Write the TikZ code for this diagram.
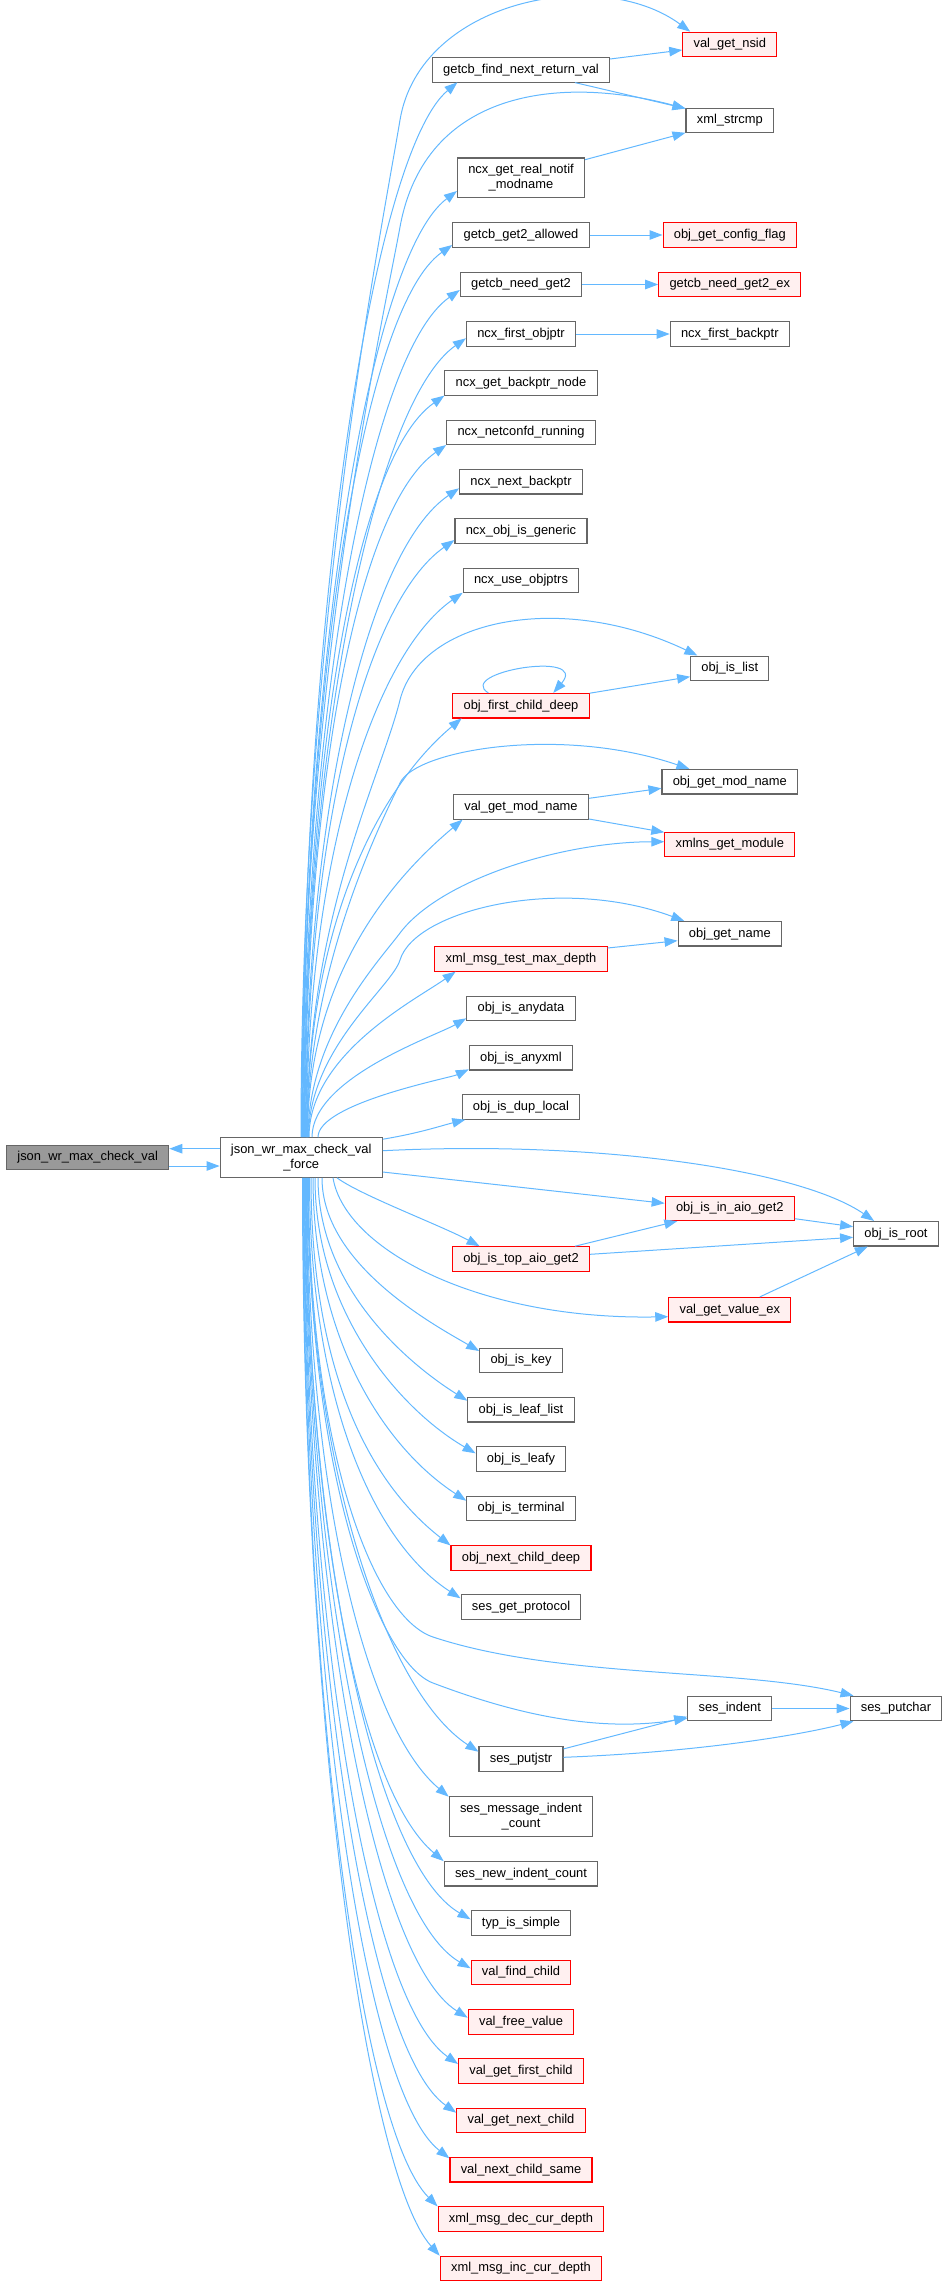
\documentclass[tikz,border=0pt]{standalone}
\usepackage{fontspec}
\setmainfont{Liberation Sans}
\usetikzlibrary{arrows.meta,calc}
\definecolor{edgeblue}{HTML}{63B8FF}
\definecolor{boxgray}{HTML}{666666}
\definecolor{redfill}{HTML}{FFF0F0}
\definecolor{maingray}{HTML}{999999}
\definecolor{boxred}{HTML}{FF0000}
\newcommand\nodefont{\fontsize{12.9pt}{15pt}\selectfont}
% fan edge from the top of the force node to a target above it
\newcommand\fanU[5]{%
  \draw[conn] let \p1=([xshift=#1pt]force.north), \p2=([shift={(#3,#4)}]#2.west),
    \n1={\y2-\y1}, \n2={min(0.3*\n1,110)} in
    (\p1) .. controls (\x1,{\y1+0.5*\n1}) and ({\x2-cos(#5)*\n2},{\y2-sin(#5)*\n2}) .. (\p2);}
% fan edge from the bottom of the force node to a target below it
\newcommand\fanD[5]{%
  \draw[conn] let \p1=([xshift=#1pt]force.south), \p2=([shift={(#3,#4)}]#2.west),
    \n1={\y1-\y2}, \n2={min(0.3*\n1,110)} in
    (\p1) .. controls (\x1,{\y1-0.5*\n1}) and ({\x2-cos(#5)*\n2},{\y2+sin(#5)*\n2}) .. (\p2);}
\begin{document}
\begin{tikzpicture}[x=1pt,y=-1pt,
  fnbox/.style={draw=boxgray,fill=white,line width=1.1pt,minimum height=24.5pt,inner xsep=10.8pt,inner ysep=0pt,font=\nodefont,text=black},
  redbox/.style={fnbox,draw=boxred,fill=redfill},
  mainbox/.style={fnbox,fill=maingray},
  twoline/.style={align=center,minimum height=39.5pt},
  conn/.style={draw=edgeblue,line width=1pt,-{Triangle[length=13pt,width=9.5pt]}}]
\useasboundingbox (0,0) rectangle (948,2286);

% ---------- nodes ----------
\node[mainbox] (json) at (87.7,1157.5) {json\_wr\_max\_check\_val};
\node[fnbox,twoline] (force) at (301.2,1157.5) {json\_wr\_max\_check\_val\\\_force};

\node[redbox] (nsid) at (729.8,44.5) {val\_get\_nsid};
\node[fnbox] (strcmp) at (729.8,120.3) {xml\_strcmp};
\node[redbox] (cfgflag) at (729.8,235) {obj\_get\_config\_flag};
\node[redbox] (needget2ex) at (729.8,284.5) {getcb\_need\_get2\_ex};
\node[fnbox] (firstbackptr) at (729.8,334) {ncx\_first\_backptr};
\node[fnbox] (islist) at (729.8,668.3) {obj\_is\_list};
\node[fnbox] (getmodname) at (729.8,781.7) {obj\_get\_mod\_name};
\node[redbox] (xmlnsmod) at (729.8,844.5) {xmlns\_get\_module};
\node[fnbox] (getname) at (729.8,933.7) {obj\_get\_name};
\node[redbox] (inaio) at (729.8,1208.3) {obj\_is\_in\_aio\_get2};
\node[redbox] (valueex) at (729.8,1309.7) {val\_get\_value\_ex};
\node[fnbox] (sesindent) at (729.8,1708.5) {ses\_indent};
\node[fnbox] (isroot) at (896,1233.7) {obj\_is\_root};
\node[fnbox] (putchar) at (896,1708.5) {ses\_putchar};

\node[fnbox] (gfnrv) at (521,69.8) {getcb\_find\_next\_return\_val};
\node[fnbox,twoline] (realnotif) at (521,177.7) {ncx\_get\_real\_notif\\\_modname};
\node[fnbox] (g2allowed) at (521,235) {getcb\_get2\_allowed};
\node[fnbox] (needget2) at (521,284.5) {getcb\_need\_get2};
\node[fnbox] (firstobjptr) at (521,334) {ncx\_first\_objptr};
\node[fnbox] (backptrnode) at (521,383) {ncx\_get\_backptr\_node};
\node[fnbox] (netconfd) at (521,432.5) {ncx\_netconfd\_running};
\node[fnbox] (nextbackptr) at (521,481.7) {ncx\_next\_backptr};
\node[fnbox] (objgeneric) at (521,531) {ncx\_obj\_is\_generic};
\node[fnbox] (useobjptrs) at (521,580.3) {ncx\_use\_objptrs};
\node[redbox] (firstchilddeep) at (521,705.7) {obj\_first\_child\_deep};
\node[fnbox] (valgetmodname) at (521,807) {val\_get\_mod\_name};
\node[redbox] (testmaxdepth) at (521,959) {xml\_msg\_test\_max\_depth};
\node[fnbox] (anydata) at (521,1008.3) {obj\_is\_anydata};
\node[fnbox] (anyxml) at (521,1057.7) {obj\_is\_anyxml};
\node[fnbox] (duplocal) at (521,1106.8) {obj\_is\_dup\_local};
\node[redbox] (topaio) at (521,1259) {obj\_is\_top\_aio\_get2};
\node[fnbox] (iskey) at (521,1360.3) {obj\_is\_key};
\node[fnbox] (leaflist) at (521,1409.7) {obj\_is\_leaf\_list};
\node[fnbox] (leafy) at (521,1459) {obj\_is\_leafy};
\node[fnbox] (terminal) at (521,1508.3) {obj\_is\_terminal};
\node[redbox] (nextchilddeep) at (521,1558) {obj\_next\_child\_deep};
\node[fnbox] (getprotocol) at (521,1607) {ses\_get\_protocol};
\node[fnbox] (putjstr) at (521,1759) {ses\_putjstr};
\node[fnbox,twoline] (msgindent) at (521,1816.3) {ses\_message\_indent\\\_count};
\node[fnbox] (newindent) at (521,1873.7) {ses\_new\_indent\_count};
\node[fnbox] (typsimple) at (521,1923) {typ\_is\_simple};
\node[redbox] (findchild) at (521,1972.5) {val\_find\_child};
\node[redbox] (freevalue) at (521,2021.8) {val\_free\_value};
\node[redbox] (firstchild) at (521,2071) {val\_get\_first\_child};
\node[redbox] (nextchild) at (521,2120.3) {val\_get\_next\_child};
\node[redbox] (nextsame) at (521,2169.7) {val\_next\_child\_same};
\node[redbox] (deccur) at (521,2219) {xml\_msg\_dec\_cur\_depth};
\node[redbox] (inccur) at (521,2268.3) {xml\_msg\_inc\_cur\_depth};

% ---------- edges between the two left nodes ----------
\draw[conn] ([yshift=8.8pt]force.west) -- ([yshift=8.8pt]json.east);
\draw[conn] ([yshift=-8.5pt]json.east) -- ([yshift=-8.5pt]force.west);

% ---------- fan to the nodes above ----------
\fanU{0.8}{gfnrv}{25.6}{12.5}{40}
\fanU{1.3}{realnotif}{0}{13.3}{37}
\fanU{1.8}{g2allowed}{0}{10}{35}
\fanU{2.3}{needget2}{0}{5.5}{35}
\fanU{2.8}{firstobjptr}{0}{4.3}{35}
\fanU{3.3}{backptrnode}{0}{12.6}{35}
\fanU{3.8}{netconfd}{0}{12.5}{35}
\fanU{4.3}{nextbackptr}{0}{6.6}{34}
\fanU{4.8}{objgeneric}{0}{9}{35}
\fanU{5.3}{useobjptrs}{0}{12.4}{35}
\fanU{5.8}{firstchilddeep}{9.4}{12.6}{40}
\fanU{6.3}{valgetmodname}{9.6}{12.6}{40}
\fanU{7.8}{testmaxdepth}{21.3}{12.6}{35}
\fanU{10.8}{anydata}{0}{10}{30}
\fanU{16.8}{anyxml}{0}{11.6}{25}
\draw[conn] ([shift={(0,2)}]force.north east) .. controls (420,1133) and (440,1126) .. ([shift={(3.7,12.9)}]duplocal.west);

% arcs over the middle column
\draw[conn] ([xshift=-0.2pt]force.north) .. controls (301,629) and (380,240) .. (400,120) .. controls (420,0) and (600,-35) .. ([xshift=8pt]nsid.north west);
\draw[conn] ([xshift=0.3pt]force.north) .. controls (301.5,682) and (382,325) .. (400,227) .. controls (425,90) and (560,75) .. ([yshift=-1pt]strcmp.north west);
\draw[conn] ([xshift=5.6pt]force.north) .. controls (306.8,918) and (380,780) .. (400,700) .. controls (420,620) and (560,590) .. ([xshift=7.3pt]islist.north west);
\draw[conn] ([xshift=6pt]force.north) .. controls (307.2,960) and (390,805) .. (400,783) .. controls (415,750) and (560,725) .. ([xshift=28pt]getmodname.north west);
\draw[conn] ([xshift=6.8pt]force.north) .. controls (308,1035) and (380,960) .. (400,933) .. controls (440,880) and (560,842) .. ([shift={(0,-2.8)}]xmlnsmod.west);
\draw[conn] ([xshift=7.3pt]force.north) .. controls (308.5,1048) and (392,987) .. (400,960) .. controls (415,910) and (560,875) .. ([xshift=6.7pt]getname.north west);

% ---------- edges to the right ----------
\draw[conn] ([shift={(0,-6.8)}]force.east) .. controls (600,1140) and (800,1170) .. ([xshift=21pt]isroot.north west);
\draw[conn] ([shift={(0,14.5)}]force.east) -- ([shift={(0,-5)}]inaio.west);
\draw[conn] ([xshift=35.8pt]force.south) .. controls (360,1195) and (440,1225) .. ([xshift=27.7pt]topaio.north west);
\draw[conn] ([xshift=31.8pt]force.south) .. controls (345,1250) and (480,1320) .. ([shift={(0,7)}]valueex.west);

% ---------- fan to the nodes below ----------
\fanD{20.8}{iskey}{0}{-9.3}{30}
\fanD{16.8}{leaflist}{0}{-9}{32}
\fanD{13.8}{leafy}{0}{-5.7}{30}
\fanD{11.8}{terminal}{0}{-7.6}{33}
\fanD{9.8}{nextchilddeep}{0}{-12.6}{38}
\fanD{8.3}{getprotocol}{0}{-8.7}{33}
\fanD{6.3}{putjstr}{0}{-7.3}{33}
\fanD{5.8}{msgindent}{0}{-19.6}{40}
\fanD{5.3}{newindent}{0}{-12.6}{40}
\fanD{4.8}{typsimple}{0}{-3.7}{30}
\fanD{4.3}{findchild}{0}{-4.2}{30}
\fanD{3.8}{freevalue}{0}{-4.1}{32}
\fanD{3.3}{firstchild}{0}{-7}{35}
\fanD{2.8}{nextchild}{0}{-7.6}{35}
\fanD{2.3}{nextsame}{0}{-11.4}{38}
\fanD{1.8}{deccur}{0}{-12.6}{45}
\fanD{1.3}{inccur}{0}{-12.6}{48}
\draw[conn] ([xshift=7.3pt]force.south) .. controls (308.5,1450) and (373,1617) .. (433,1637) .. controls (560,1679) and (740,1668) .. ([xshift=4pt]putchar.north west);
\draw[conn] ([xshift=6.8pt]force.south) .. controls (308,1480) and (380,1663) .. (433,1683) .. controls (520,1716) and (600,1732) .. ([shift={(0,9.8)}]sesindent.west);

% ---------- edges between callees ----------
\draw[conn] ([shift={(0,-10.8)}]gfnrv.east) -- ([shift={(0,5.5)}]nsid.west);
\draw[conn] ([xshift=54pt]gfnrv.south) -- ([yshift=-1pt]strcmp.north west);
\draw[conn] ([shift={(0,2.3)}]realnotif.north east) -- ([shift={(0,-0.3)}]strcmp.south west);
\draw[conn] (g2allowed) -- (cfgflag);
\draw[conn] (needget2) -- (needget2ex);
\draw[conn] (firstobjptr) -- (firstbackptr);
\draw[conn] ([xshift=-32.7pt]firstchilddeep.north) .. controls (455,672) and (590,650) .. ([xshift=32.3pt]firstchilddeep.north);
\draw[conn] ([shift={(0,0.3)}]firstchilddeep.north east) -- ([shift={(0,8.4)}]islist.west);
\draw[conn] ([shift={(0,-8.7)}]valgetmodname.east) -- ([shift={(0,6.6)}]getmodname.west);
\draw[conn] ([shift={(0,12)}]valgetmodname.east) -- ([shift={(0,-12.2)}]xmlnsmod.west);
\draw[conn] ([shift={(0,-11)}]testmaxdepth.east) -- ([shift={(0,7)}]getname.west);
\draw[conn] ([xshift=54pt]topaio.north) -- ([xshift=12.7pt]inaio.south west);
\draw[conn] ([shift={(0,-4.7)}]topaio.east) -- ([shift={(0,3.6)}]isroot.west);
\draw[conn] ([shift={(0,10.4)}]inaio.east) -- ([shift={(0,-7)}]isroot.west);
\draw[conn] ([xshift=30pt]valueex.north) -- ([xshift=14.7pt]isroot.south west);
\draw[conn] (sesindent) -- (putchar);
\draw[conn] ([shift={(0,2.7)}]putjstr.north east) -- ([shift={(0,8.2)}]sesindent.west);
\draw[conn] ([shift={(0,-1.7)}]putjstr.east) .. controls (700,1752) and (800,1735) .. ([xshift=4pt]putchar.south west);
\end{tikzpicture}
\end{document}
